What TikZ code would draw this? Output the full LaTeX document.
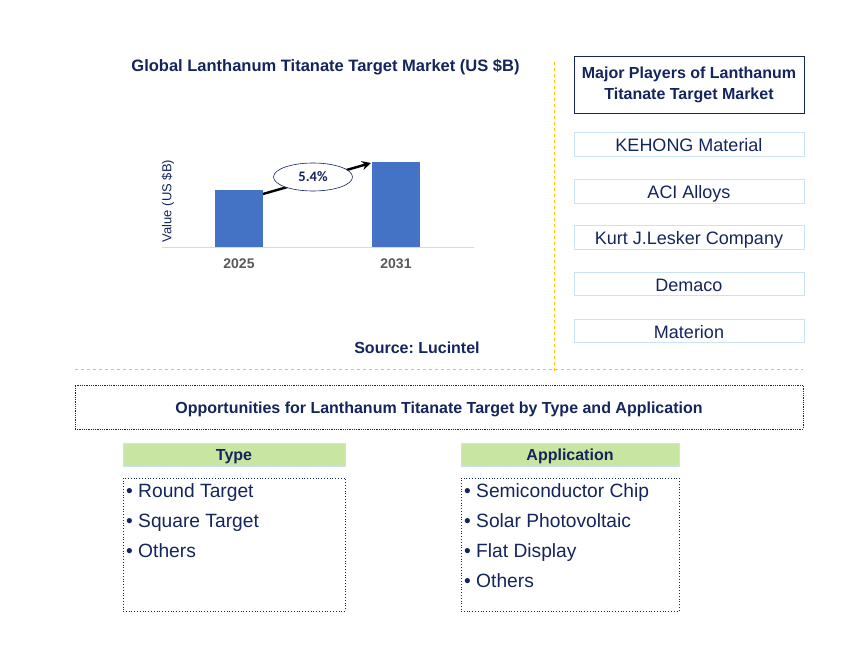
\documentclass[tikz,border=0pt]{standalone}
\usepackage{fontspec}
\setmainfont{Liberation Sans}
\newfontfamily\calfont{Carlito}
\usetikzlibrary{arrows.meta,shapes.geometric}
\definecolor{navy}{HTML}{14245C}
\definecolor{barblue}{HTML}{4472C4}
\definecolor{lblue}{HTML}{C9E2F5}
\definecolor{hgreen}{HTML}{C8E6A2}
\definecolor{orng}{HTML}{FFC000}
\definecolor{axgray}{HTML}{D9D9D9}
\definecolor{yrgray}{HTML}{595959}
\newcommand{\fs}[1]{\fontsize{#1}{#1}\selectfont}
\frenchspacing
\tikzset{
  txt/.style={text=navy, inner sep=0pt},
  bar/.style={fill=barblue, draw=none},
  player/.style={draw=lblue, line width=0.8pt, minimum width=230pt, minimum height=23.5pt, text=navy, inner sep=0pt, text height=14.6pt, text depth=0pt, font=\fs{18}},
  hdr/.style={draw=lblue, fill=hgreen, line width=0.8pt, minimum width=222pt, minimum height=23pt, text=navy, inner sep=0pt, text height=11pt, text depth=0pt, font=\bfseries\fs{16}},
  listbox/.style={draw=navy, dotted, line width=0.8pt},
  item/.style={text=navy, anchor=base west, inner sep=0pt, font=\fs{19.2}},
  sep/.style={draw=orng, dashed, line width=0.8pt}
}
\begin{document}
\begin{tikzpicture}[x=1pt,y=-1pt]
\useasboundingbox (0,0) rectangle (868,652);
% chart
\node[txt, anchor=base, font=\bfseries\fs{16.5}] (title) at (325.5,72) {Global Lanthanum Titanate Target Market (US \$B)};
\draw[axgray, line width=0.8pt] (162,247) -- (474,247);
\node[bar, minimum width=48pt, minimum height=57pt, inner sep=0pt, anchor=south west] (b1) at (215,247) {};
\node[bar, minimum width=48pt, minimum height=85pt, inner sep=0pt, anchor=south west] (b2) at (372,247) {};
\node[txt, rotate=90, font=\fs{13}] (ylab) at (168,201) {Value (US \$B)};
\node[txt, anchor=base, text=yrgray, font=\bfseries\fs{14}] (y1) at (239,268.5) {2025};
\node[txt, anchor=base, text=yrgray, font=\bfseries\fs{14}] (y2) at (396,268.5) {2031};
\coordinate (a1) at (263,194);
\coordinate (a2) at (371,163);
\draw[line width=2.4pt, -{Stealth[length=9pt,width=9pt]}] (a1) -- (a2);
\node[draw=navy, fill=white, ellipse, line width=0.6pt, minimum width=79pt, minimum height=28pt, inner sep=0pt, text=navy, font=\calfont\bfseries\fs{14.5}] (cagr) at (313,177) {5.4\%};
\node[txt, anchor=base, font=\bfseries\fs{16}] (src) at (417,353.3) {Source: Lucintel};
% separators
\coordinate (v1) at (554,62);
\coordinate (v2) at (554,371);
\coordinate (h1) at (75,369);
\coordinate (h2) at (803,369);
\draw[sep] (v1) -- (v2);
\draw[sep] (h1) -- (h2);
% players
\node[draw=navy, line width=0.9pt, minimum width=230pt, minimum height=57pt, inner sep=0pt, text=navy, align=center, font=\bfseries\fontsize{16}{20.7}\selectfont] (mp) at (689,85) {Major Players of Lanthanum\\Titanate Target Market};
\node[player] (p1) at (689,144.5) {KEHONG Material};
\node[player] (p2) at (689,191.3) {ACI Alloys};
\node[player] (p3) at (689,237.5) {Kurt J.Lesker Company};
\node[player] (p4) at (689,284) {Demaco};
\node[player] (p5) at (689,331) {Materion};
% opportunities
\node[draw=navy, densely dotted, line width=0.8pt, minimum width=728pt, minimum height=44pt, inner sep=0pt, text height=12.6pt, text depth=0pt, text=navy, font=\bfseries\fs{16}] (opp) at (439,407) {Opportunities for Lanthanum Titanate Target by Type and Application};
\node[hdr] (th) at (234,454.5) {Type};
\node[hdr, minimum width=218pt] (ah) at (570,454.5) {Application};
\node[listbox, minimum width=222pt, minimum height=133pt, inner sep=0pt] (tl) at (234,544.5) {};
\node[listbox, minimum width=218pt, minimum height=133pt, inner sep=0pt] (al) at (570,544.5) {};
\node[item] (t1) at (126,497) {\textbullet\ Round Target};
\node[item] (t2) at (126,527) {\textbullet\ Square Target};
\node[item] (t3) at (126,557) {\textbullet\ Others};
\node[item] (i1) at (464,497) {\textbullet\ Semiconductor Chip};
\node[item] (i2) at (464,527) {\textbullet\ Solar Photovoltaic};
\node[item] (i3) at (464,557) {\textbullet\ Flat Display};
\node[item] (i4) at (464,587) {\textbullet\ Others};
\end{tikzpicture}
\end{document}
